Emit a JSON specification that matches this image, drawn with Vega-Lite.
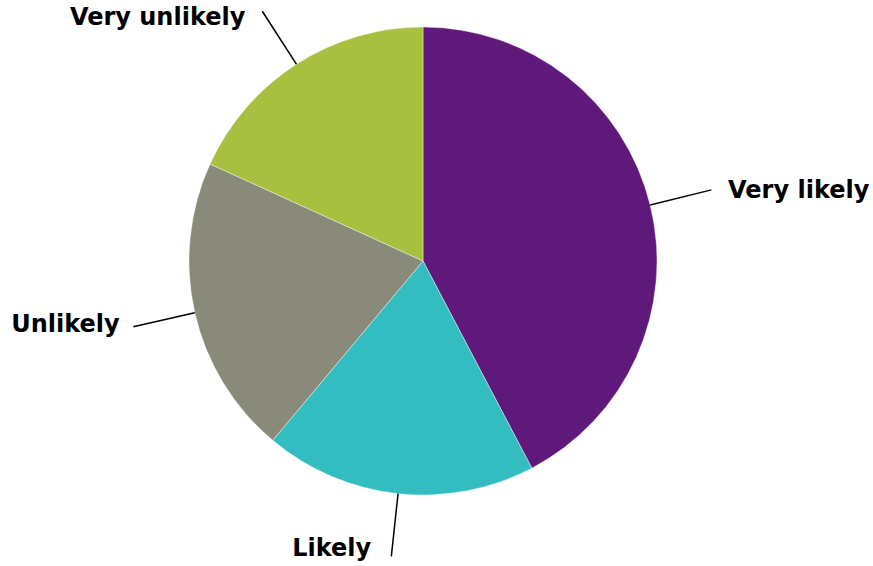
{
  "$schema": "https://vega.github.io/schema/vega-lite/v6.json",
  "autosize": "none",
  "width": 846,
  "height": 522,
  "padding": {"left": 0, "top": 0, "right": 27, "bottom": 44},
  "background": "white",
  "view": {"stroke": null},
  "data": {
    "values": [
      {"answer": "Very likely", "pct": 42.3},
      {"answer": "Likely", "pct": 18.8},
      {"answer": "Unlikely", "pct": 20.7},
      {"answer": "Very unlikely", "pct": 18.2}
    ]
  },
  "transform": [
    {"window": [{"op": "sum", "field": "pct", "as": "cum"}], "frame": [null, 0]},
    {"joinaggregate": [{"op": "sum", "field": "pct", "as": "total"}]},
    {"calculate": "2*PI*(datum.cum - datum.pct)/datum.total", "as": "a0"},
    {"calculate": "2*PI*datum.cum/datum.total", "as": "a1"},
    {"calculate": "(datum.a0 + datum.a1)/2", "as": "mid"}
  ],
  "layer": [
    {
      "mark": {"type": "arc", "radius": 234, "stroke": "white", "strokeWidth": 0.4},
      "encoding": {
        "theta": {"field": "a0", "type": "quantitative", "scale": null},
        "theta2": {"field": "a1"},
        "color": {
          "field": "answer",
          "type": "nominal",
          "scale": {
            "domain": ["Very likely", "Likely", "Unlikely", "Very unlikely"],
            "range": ["#5F197A", "#33BDC0", "#8A8A7A", "#A8C03F"]
          },
          "legend": null
        }
      }
    },
    {
      "mark": {"type": "arc", "radius": 297, "radius2": 234, "filled": false, "stroke": "black", "strokeWidth": 1.5},
      "encoding": {
        "theta": {"field": "mid", "type": "quantitative", "scale": null},
        "theta2": {"field": "mid"}
      }
    },
    {
      "transform": [{"filter": "datum.mid < PI"}],
      "mark": {"type": "text", "radius": 289.5, "align": "left", "baseline": "middle", "dx": 24, "dy": -1, "font": "DejaVu Sans", "fontWeight": "bold", "fontSize": 24, "fill": "black"},
      "encoding": {
        "theta": {"field": "mid", "type": "quantitative", "scale": null},
        "text": {"field": "answer"}
      }
    },
    {
      "transform": [{"filter": "datum.mid >= PI"}],
      "mark": {"type": "text", "radius": 289.5, "align": "right", "baseline": "middle", "dx": -21, "font": "DejaVu Sans", "fontWeight": "bold", "fontSize": 24, "fill": "black"},
      "encoding": {
        "theta": {"field": "mid", "type": "quantitative", "scale": null},
        "text": {"field": "answer"}
      }
    }
  ]
}
